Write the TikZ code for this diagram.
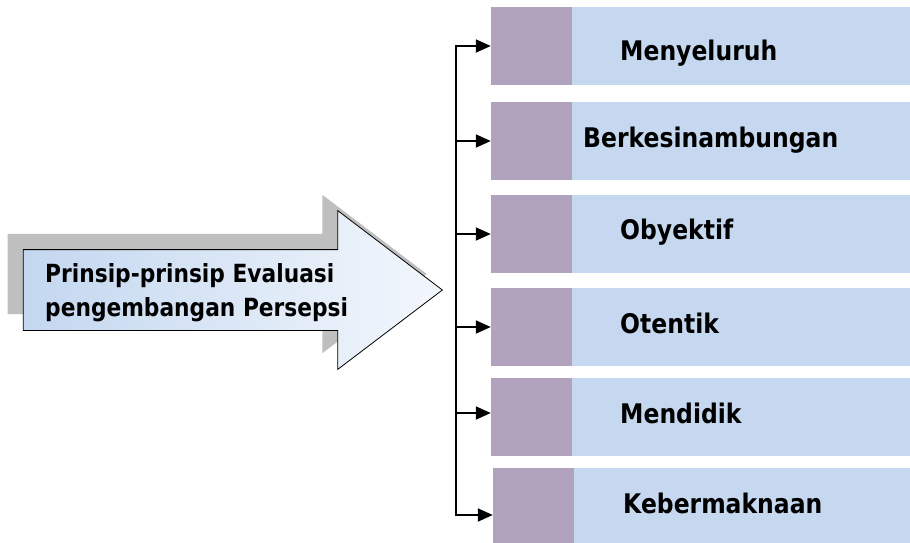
\documentclass[tikz,border=0pt]{standalone}
\usepackage{fontspec}
\usetikzlibrary{positioning,calc,arrows.meta,shapes.arrows}
\newfontfamily\diagfont{DejaVu Sans}[FakeStretch=0.87]
\definecolor{boxblue}{HTML}{C6D8F0}
\definecolor{boxpurple}{HTML}{B1A2BD}
\definecolor{arrowblue}{HTML}{C3D7F0}
\definecolor{arrowwhite}{HTML}{F3F7FC}
\definecolor{shadowgray}{HTML}{BFBFBF}
\tikzstyle{item} = [ rectangle, fill = boxblue, inner sep = 0pt, minimum width = 419pt, minimum height = 78pt,
	path picture = { \fill[boxpurple] (path picture bounding box.north west) rectangle ([xshift=81pt]path picture bounding box.south west); } ]
\tikzstyle{itemtext} = [ anchor = base west, inner sep = 0pt, font = \diagfont\bfseries\fontsize{27}{32}\selectfont ]
\tikzstyle{bigarrow} = [ single arrow, inner sep = 0pt, minimum height = 419pt, anchor = tip,
	single arrow head extend = 39pt, single arrow tip angle = 74.4 ]
\tikzstyle{edge} = [ -{Triangle[length=15pt, width=13pt]}, line width = 1.8pt ]

\begin{document}
\begin{tikzpicture}[x=1pt, y=-1pt]
	\useasboundingbox (0,0) rectangle (910,542);

	% big arrow with its shadow
	\node[bigarrow, fill = shadowgray] (shadow) at ( 427, 274 ) {\rule{0pt}{80pt}};
	\node[bigarrow, draw, line width = 0.8pt, left color = arrowblue, right color = arrowwhite] (main) at ( 443, 290 ) {\rule{0pt}{80pt}};
	\node[anchor = north west, inner sep = 0pt, align = left, font = \diagfont\bfseries\fontsize{25}{34}\selectfont] (title) at ( 45, 263 )
		{Prinsip-prinsip Evaluasi\\pengembangan Persepsi};

	% boxes
	\node[item] (b1) at ( 700.5, 46 ) {};
	\node[item] (b2) at ( 700.5, 141 ) {};
	\node[item] (b3) at ( 700.5, 234 ) {};
	\node[item] (b4) at ( 700.5, 327 ) {};
	\node[item] (b5) at ( 700.5, 417 ) {};
	\node[item, minimum width = 417pt] (b6) at ( 701.5, 507 ) {};

	\node[itemtext] (t1) at ( 620, 60 ) {Menyeluruh};
	\node[itemtext] (t2) at ( 583, 147 ) {Berkesinambungan};
	\node[itemtext] (t3) at ( 620, 239 ) {Obyektif};
	\node[itemtext] (t4) at ( 620, 333 ) {Otentik};
	\node[itemtext] (t5) at ( 620, 423 ) {Mendidik};
	\node[itemtext] (t6) at ( 623, 513 ) {Kebermaknaan};

	% bracket
	\coordinate (spine) at ( 456, 0 );
	\coordinate (e5) at ([yshift=4pt]b5.west);
	\coordinate (e6) at ([yshift=-8pt]b6.west);
	\draw[line width = 1.8pt, line cap = rect] (spine |- b1.west) -- (spine |- e6);
	\draw[edge] (spine |- b1.west) -- (b1.west);
	\draw[edge] (spine |- b2.west) -- (b2.west);
	\draw[edge] (spine |- b3.west) -- (b3.west);
	\draw[edge] (spine |- b4.west) -- (b4.west);
	\draw[edge] (spine |- e5) -- (e5);
	\draw[edge] (spine |- e6) -- (e6);
\end{tikzpicture}
\end{document}
